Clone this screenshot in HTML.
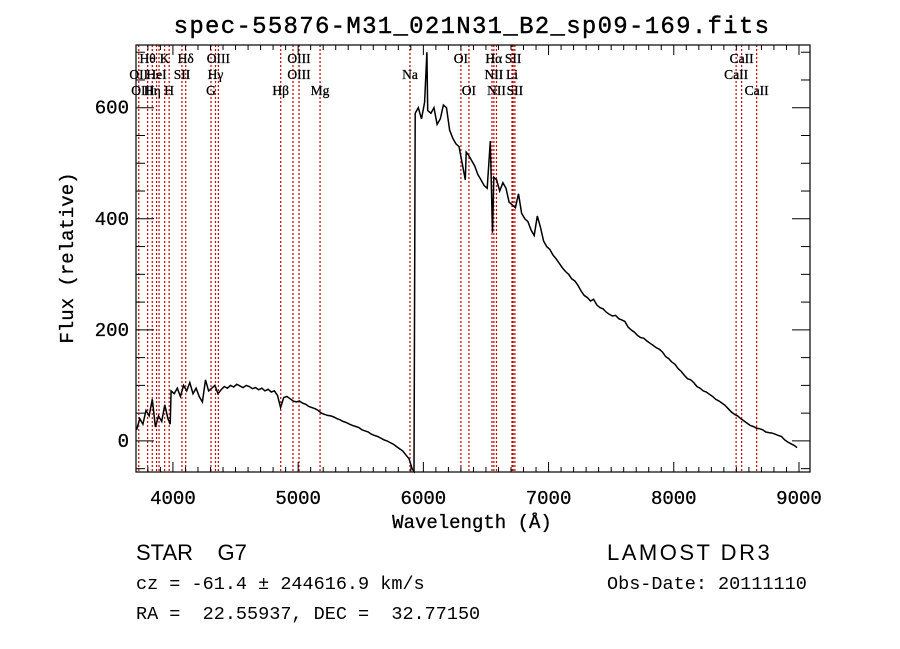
<!DOCTYPE html>
<html><head><meta charset="utf-8"><style>
body{margin:0;background:#fff;}
svg{display:block;}
.mono{font-family:"Liberation Mono",monospace;}
.serif{font-family:"Liberation Serif",serif;}
</style></head><body>
<svg id="chart" width="900" height="649" xmlns="http://www.w3.org/2000/svg">
<rect width="900" height="649" fill="#fff"/>
<text x="472" y="33" text-anchor="middle" class="mono" font-size="24" letter-spacing="1.3" stroke="#000" stroke-width="0.4">spec-55876-M31_021N31_B2_sp09-169.fits</text>
<g id="lines"></g>
<g id="spec"></g>
<g id="axes"></g>
<text x="472" y="528" text-anchor="middle" class="mono" font-size="19" stroke="#000" stroke-width="0.3">Wavelength (Å)</text>
<text transform="translate(73,258) rotate(-90)" text-anchor="middle" class="mono" font-size="19" stroke="#000" stroke-width="0.3">Flux (relative)</text>
<text x="136" y="560" font-family="Liberation Sans,sans-serif" font-size="22" xml:space="preserve">STAR    G7</text>
<text x="607" y="560" font-family="Liberation Sans,sans-serif" font-size="22" letter-spacing="2.5">LAMOST DR3</text>
<text x="136" y="589" class="mono" font-size="18.5">cz = -61.4 ± 244616.9 km/s</text>
<text x="607" y="589" class="mono" font-size="18.5">Obs-Date: 20111110</text>
<text x="136" y="619" class="mono" font-size="18.5" xml:space="preserve">RA =  22.55937, DEC =  32.77150</text>
</svg>
<script>
const waves=[3710,3735,3760,3785,3810,3835,3860,3885,3910,3935,3960,3978,3985,
4010,4035,4060,4085,4110,4135,4160,4185,4210,4235,4260,4285,4310,4335,4360,4385,
4410,4435,4460,4485,4510,4535,4560,4585,4610,4635,4660,4685,4710,4735,4760,4785,
4810,4835,4860,4885,4910,4935,4960,4985,
5010,5035,5060,5085,5110,5135,5160,5185,5210,5235,5260,5285,5310,5335,5360,5385,
5410,5435,5460,5485,5510,5535,5560,5585,5610,5635,5660,5685,5710,5735,5760,5785,5810,5835,5860,5885,
5910,5925,5935,
5960,5985,6010,6028,6035,6060,6085,6110,6135,6160,6185,6210,6235,6260,6285,6310,6335,6342,6360,6385,6410,6435,6460,6485,6510,6535,6552,6563,6585,6610,6635,6660,6685,6710,6735,6760,6785,6810,6835,6860,6885,6910,6935,6960,6985,7010,7035,7060,7085,
7110,7135,7160,7185,7210,7235,7260,7285,7310,7335,7360,7385,7410,7435,7460,7485,7510,7535,7560,7585,7610,7635,7660,7685,7710,7735,7760,7785,7810,7835,7860,7885,7910,7935,7960,7985,8010,8035,8060,8085,8110,8135,8160,8185,8210,8235,8260,8285,8310,8335,8360,8385,8410,8435,8460,8485,8510,8535,8560,8585,8610,8635,8660,8685,8710,8735,8760,8785,8810,8835,8860,8885,8910,8935,8960,8985,9010];
const flux=[20,40,30,55,45,75,25,45,35,65,40,30,90,
85,95,80,100,90,105,85,95,80,70,110,90,95,100,85,92,
98,95,100,97,102,99,96,100,98,94,96,92,95,90,93,88,
90,82,60,78,80,76,72,70,
72,68,66,62,60,58,55,50,48,46,45,43,40,38,35,33,
30,28,26,24,20,18,16,12,10,8,5,2,0,-3,-6,-10,-14,-18,-25,-32,
-50,-55,590,
600,580,610,700,595,590,600,570,580,605,600,560,545,535,530,500,470,520,515,505,495,480,470,460,455,540,375,475,470,450,465,455,430,425,420,445,410,400,395,380,370,405,385,360,350,345,335,328,
320,312,305,300,292,288,280,270,262,258,252,255,245,240,238,232,228,225,226,220,218,215,205,200,196,190,186,185,180,176,172,168,165,160,152,148,142,138,130,125,118,112,110,105,98,95,90,88,84,80,75,72,68,64,58,52,48,45,40,36,32,28,26,23,22,20,16,15,14,12,10,8,2,-2,-5,-8,-12];
const lineWaves=[3727,3798,3835,3869,3889,3934,3970,4072,4102,4304,4340,4363,4861,4959,5007,5175,5893,6300,6364,6548,6563,6584,6708,6717,6731,8498,8542,8662];
const labelText=["H\u03b8","K","H\u03b4","OIII","OIII","OI","H\u03b1","SII","CaII",
"OII","HeI","SII","H\u03b3","OIII","Na","NII","Li","CaII",
"OIII","H\u03b7","H","G","H\u03b2","Mg","OI","NII","SII","CaII"];
const labelWaves=[3798,3934,4102,4363,5007,6300,6563,6717,8542,
3727,3869,4072,4340,5007,5893,6563,6708,8498,
3760,3835,3970,4304,4861,5175,6364,6584,6731,8662];
const labelRows=[0,0,0,0,0,0,0,0,0,1,1,1,1,1,1,1,1,1,2,2,2,2,2,2,2,2,2,2];
const xTicks=[4000,5000,6000,7000,8000,9000];
const yTicks=[0,200,400,600];

const X0=136,X1=810,Y0=45,Y1=472;
const WMIN=3705,WMAX=9088,FMIN=-56,FMAX=713;
const sx=w=>X0+(w-WMIN)/(WMAX-WMIN)*(X1-X0);
const sy=f=>Y1-(f-FMIN)/(FMAX-FMIN)*(Y1-Y0);
const NS="http://www.w3.org/2000/svg";
function mk(tag,attrs,parent){const e=document.createElementNS(NS,tag);for(const k in attrs)e.setAttribute(k,attrs[k]);parent.appendChild(e);return e;}

const gl=document.getElementById('lines');
lineWaves.forEach(w=>{
  const l=mk('line',{x1:sx(w),x2:sx(w),y1:Y0,y2:Y1,stroke:'#c00000','stroke-width':1.2,'stroke-dasharray':'2,2'},gl);
  
  
});
labelText.forEach((t,i)=>{
  const e=mk('text',{x:sx(labelWaves[i]),y:63+labelRows[i]*16,'text-anchor':'middle','font-family':'Liberation Serif,serif','font-size':13.5,stroke:'#000','stroke-width':0.3},gl);
  e.textContent=t;
  
  
});

const gs=document.getElementById('spec');
let d='';
waves.forEach((w,i)=>{d+=(i?'L':'M')+sx(w).toFixed(1)+','+sy(Math.max(FMIN,Math.min(FMAX,flux[i]))).toFixed(1);});
const p=mk('path',{d:d,fill:'none',stroke:'#000','stroke-width':1.5},gs);



const ga=document.getElementById('axes');
const box=mk('rect',{x:X0,y:Y0,width:X1-X0,height:Y1-Y0,fill:'none',stroke:'#000','stroke-width':1.2},ga);


for(let w=3800;w<=9000;w+=100){
  const x=sx(w),len=(w%1000===0)?10:5;
  mk('line',{x1:x,x2:x,y1:Y1,y2:Y1-len,stroke:'#000'},ga);
  mk('line',{x1:x,x2:x,y1:Y0,y2:Y0+len,stroke:'#000'},ga);
}
for(let f=-50;f<=700;f+=50){
  const y=sy(f),len=(f%200===0)?18:9;
  mk('line',{x1:X0,x2:X0+len,y1:y,y2:y,stroke:'#000'},ga);
  mk('line',{x1:X1,x2:X1-len,y1:y,y2:y,stroke:'#000'},ga);
}
xTicks.forEach(v=>{
  const t=mk('text',{x:sx(v),y:504,'text-anchor':'middle','font-family':'Liberation Mono,monospace','font-size':19,stroke:'#000','stroke-width':0.3},ga);
  t.textContent=v;
  
  
});
yTicks.forEach(v=>{
  const t=mk('text',{x:129,y:sy(v)+6,'text-anchor':'end','font-family':'Liberation Mono,monospace','font-size':19,stroke:'#000','stroke-width':0.3},ga);
  t.textContent=v;
  
  
});
</script>
</body></html>
